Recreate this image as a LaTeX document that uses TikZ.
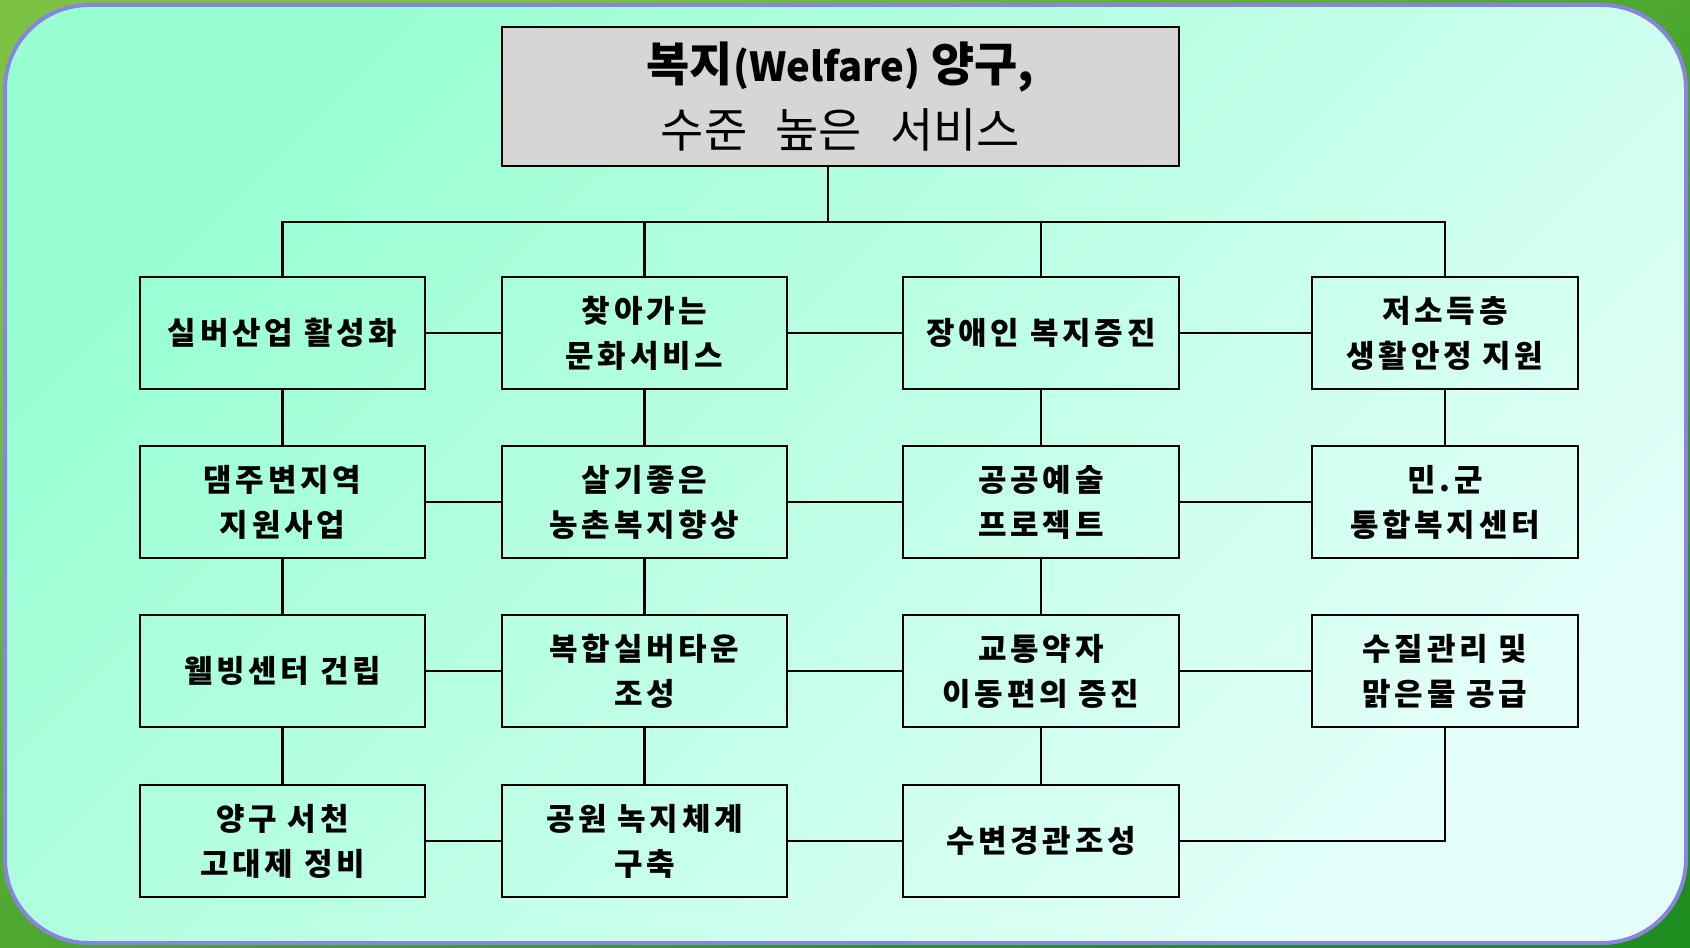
\documentclass[tikz,border=0pt]{standalone}
\usepackage{fontspec}
\setmainfont{Noto Sans CJK KR}
\newfontfamily\boxfont[LetterSpace=12]{Noto Sans CJK KR}
\begin{document}
\begin{tikzpicture}[x=0.5pt,y=-0.5pt]
\definecolor{outerA}{HTML}{7DC242}
\definecolor{outerB}{HTML}{1E8C1E}
\definecolor{mintA}{HTML}{98FFD2}
\definecolor{mintB}{HTML}{E4FFFA}
\definecolor{rimC}{HTML}{8A84E0}
\definecolor{titleG}{HTML}{D6D6D6}
\tikzset{
  box/.style={draw=black, line width=1.3pt, minimum height=56pt, align=center,
    inner sep=0pt, font=\boxfont\bfseries\fontsize{15.5}{22.5}\selectfont},
  wa/.style={minimum width=142.5pt},
  wc/.style={minimum width=138pt},
  wd/.style={minimum width=133pt},
  link/.style={draw=black, line width=1.3pt}
}
\useasboundingbox (0,0) rectangle (1690,947);
\shade[top color=outerA, bottom color=outerB, shading angle=30] (0,0) rectangle (1690,947);
\shade[rounded corners=42pt, top color=mintA, bottom color=mintB, shading angle=45] (5,5) rectangle (1686,943);
\draw[rounded corners=42pt, draw=rimC, line width=2pt] (5,5) rectangle (1686,943);

\node[box, fill=titleG, minimum width=338.5pt, minimum height=69.5pt,
  font=\fontsize{23.5}{33}\selectfont] (t) at (840.5,96.5)
  {\textbf{복지{\fontsize{20}{33}\selectfont(Welfare)} 양구,}\\수준\hspace{0.6em}높은\hspace{0.6em}서비스};

\node[box, wa] (a1) at (282.5,333) {실버산업 활성화};
\node[box, wa] (b1) at (644.5,333) {찾아가는\\문화서비스};
\node[box, wc] (c1) at (1041,333) {장애인 복지증진};
\node[box, wd] (d1) at (1445,333) {저소득층\\생활안정 지원};

\node[box, wa] (a2) at (282.5,502) {댐주변지역\\지원사업};
\node[box, wa] (b2) at (644.5,502) {살기좋은\\농촌복지향상};
\node[box, wc] (c2) at (1041,502) {공공예술\\프로젝트};
\node[box, wd] (d2) at (1445,502) {민.군\\통합복지센터};

\node[box, wa] (a3) at (282.5,671) {웰빙센터 건립};
\node[box, wa] (b3) at (644.5,671) {복합실버타운\\조성};
\node[box, wc] (c3) at (1041,671) {교통약자\\이동편의 증진};
\node[box, wd] (d3) at (1445,671) {수질관리 및\\맑은물 공급};

\node[box, wa] (a4) at (282.5,841) {양구 서천\\고대제 정비};
\node[box, wa] (b4) at (644.5,841) {공원 녹지체계\\구축};
\node[box, wc] (c4) at (1041,841) {수변경관조성};

\coordinate (bus) at (0,222);
\coordinate (stem) at (828,0);
\draw[link] (stem |- t.south) -- (stem |- bus);
\draw[link] (a1.north) -- (a1.north |- bus) -- (d1.north |- bus) -- (d1.north);
\draw[link] (b1.north) -- (b1.north |- bus);
\draw[link] (c1.north) -- (c1.north |- bus);

\draw[link] (a1) -- (b1);
\draw[link] (b1) -- (c1);
\draw[link] (c1) -- (d1);
\draw[link] (a2) -- (b2);
\draw[link] (b2) -- (c2);
\draw[link] (c2) -- (d2);
\draw[link] (a3) -- (b3);
\draw[link] (b3) -- (c3);
\draw[link] (c3) -- (d3);
\draw[link] (a4) -- (b4);
\draw[link] (b4) -- (c4);

\draw[link] (a1) -- (a2);
\draw[link] (a2) -- (a3);
\draw[link] (a3) -- (a4);
\draw[link] (b1) -- (b2);
\draw[link] (b2) -- (b3);
\draw[link] (b3) -- (b4);
\draw[link] (c1) -- (c2);
\draw[link] (c2) -- (c3);
\draw[link] (c3) -- (c4);
\draw[link] (d1) -- (d2);
\draw[link] (d3.south) |- (c4.east);
\end{tikzpicture}
\end{document}
